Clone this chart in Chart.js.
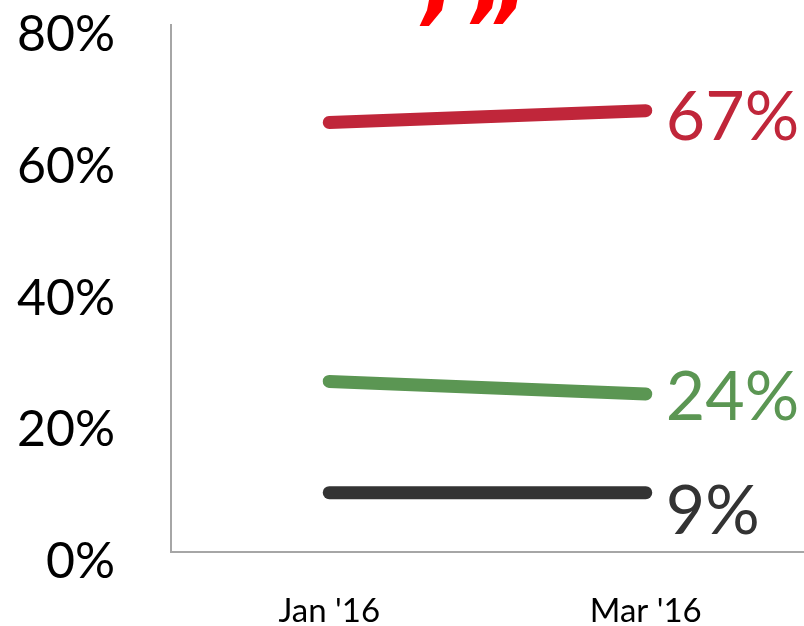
<!DOCTYPE html>
<html lang="en">
<head>
  <meta charset="UTF-8">
  <title>Chart</title>
  <script src="https://cdn.jsdelivr.net/npm/chart.js"></script>
  <style>
    body { margin: 0; padding: 0; background: #fff; overflow: hidden; }
  </style>
</head>
<body>
  <canvas id="chart" width="804" height="626"></canvas>
  <script>
    // data
    const months = ["Jan '16", "Mar '16"];
    const redVals = [65.2, 67];
    const greenVals = [25.9, 24];
    const darkVals = [9, 9];
    const endLabels = ['67%', '24%', '9%'];
    const yTicks = [0, 20, 40, 60, 80];

    const colors = ['#c0263a', '#5b9653', '#333333'];
    const fontFam = 'Lato, "Open Sans", sans-serif';

    // value labels at the end of each line
    const endLabelPlugin = {
      id: 'endLabels',
      afterDatasetsDraw(chart) {
        const ctx = chart.ctx;
        const dy = [7, 4, 19];
        ctx.save();
        ctx.font = '68px ' + fontFam;
        ctx.textAlign = 'left';
        ctx.textBaseline = 'middle';
        chart.data.datasets.forEach((ds, i) => {
          const pts = chart.getDatasetMeta(i).data;
          const p = pts[pts.length - 1];
          ctx.fillStyle = colors[i];
          ctx.fillText(endLabels[i], p.x + 20, p.y + dy[i]);
        });
        // red marks cut off at the top edge
        ctx.fillStyle = '#ff0000';
        ctx.font = 'italic bold 90px "DejaVu Sans", sans-serif';
        ctx.textBaseline = 'alphabetic';
        ctx.fillText('’', 413, 64);
        ctx.fillText('”', 463, 62);
        ctx.restore();
      }
    };

    new Chart(document.getElementById('chart'), {
      type: 'line',
      data: {
        labels: months,
        datasets: [redVals, greenVals, darkVals].map((v, i) => ({
          data: v,
          borderColor: colors[i],
          borderWidth: 13,
          borderCapStyle: 'round',
          pointRadius: 0,
          tension: 0,
        }))
      },
      options: {
        responsive: false,
        animation: false,
        layout: { padding: { top: 25, right: 0, left: 0, bottom: 0 } },
        plugins: { legend: { display: false }, tooltip: { enabled: false } },
        scales: {
          x: {
            offset: true,
            grid: { display: false, drawTicks: false },
            border: { color: '#a6a6a6', width: 2 },
            ticks: {
              color: '#000',
              padding: 40,
              font: { family: fontFam, size: 33 }
            },
            afterFit(s) { s.height = 74; }
          },
          y: {
            min: 0,
            max: 80,
            afterBuildTicks(s) { s.ticks = yTicks.map(v => ({ value: v })); },
            grid: { display: false, drawTicks: false },
            border: { color: '#a6a6a6', width: 2 },
            ticks: {
              color: '#000',
              padding: 56,
              labelOffset: 10,
              font: { family: fontFam, size: 50, lineHeight: 0.2 },
              callback: v => v + '%'
            },
            afterFit(s) {
              s.width = 171;
              s.paddingTop = 0;
              s.paddingBottom = 0;
            }
          }
        }
      },
      plugins: [endLabelPlugin]
    });
  </script>
</body>
</html>
